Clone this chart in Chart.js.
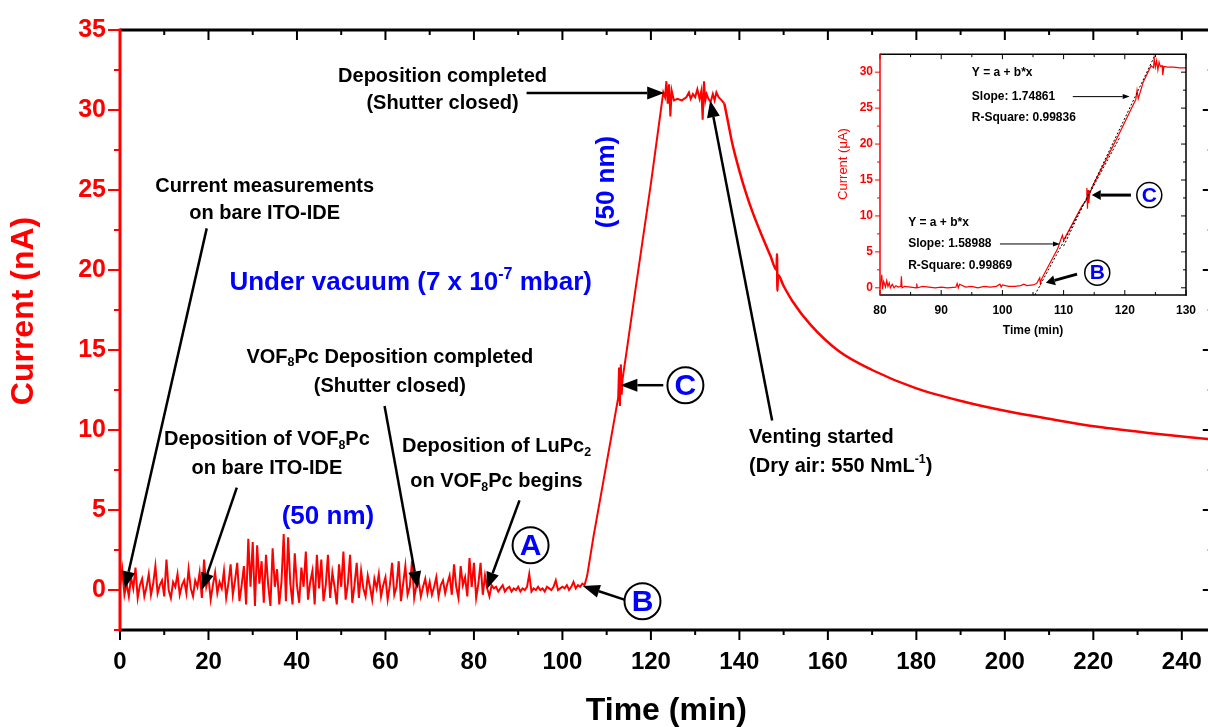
<!DOCTYPE html>
<html>
<head>
<meta charset="utf-8">
<script src="https://cdn.jsdelivr.net/npm/chart.js@4.4.0/dist/chart.umd.min.js"></script>
<style>
  html, body { margin: 0; padding: 0; background: #fff; overflow: hidden; }
  #wrap { position: relative; width: 1208px; height: 727px; overflow: hidden; }
  #main { position: absolute; left: 0; top: 0; }
  #inset { position: absolute; left: 835px; top: 40px; }
</style>
</head>
<body>
<div id="wrap">
  <canvas id="main" width="1220" height="727"></canvas>
  <canvas id="inset" width="373" height="310"></canvas>
</div>
<script>
// ---- main curve (current in nA vs time in min) ----
const noiseTime = [
  0, 0.5, 1, 1.5, 2, 2.5, 3, 3.5, 4, 4.5,
  5, 5.5, 6, 6.5, 7, 7.5, 8, 8.5, 9, 9.5,
  10, 10.5, 11, 11.5, 12, 12.5, 13, 13.5, 14, 14.5,
  15, 15.5, 16, 16.5, 17, 17.5, 18, 18.5, 19, 19.5,
  20, 20.5, 21, 21.5, 22, 22.5, 23, 23.5, 24, 24.5,
  25, 25.5, 26, 26.5, 27, 27.5, 28, 28.5, 29, 29.5,
  30, 30.5, 31, 31.5, 32, 32.5, 33, 33.5, 34, 34.5,
  35, 35.5, 36, 36.5, 37, 37.5, 38, 38.5, 39, 39.5,
  40, 40.5, 41, 41.5, 42, 42.5, 43, 43.5, 44, 44.5,
  45, 45.5, 46, 46.5, 47, 47.5, 48, 48.5, 49, 49.5,
  50, 50.5, 51, 51.5, 52, 52.5, 53, 53.5, 54, 54.5,
  55, 55.5, 56, 56.5, 57, 57.5, 58, 58.5, 59, 59.5,
  60, 60.5, 61, 61.5, 62, 62.5, 63, 63.5, 64, 64.5,
  65, 65.5, 66, 66.5, 67, 67.5, 68, 68.5, 69, 69.5,
  70, 70.5, 71, 71.5, 72, 72.5, 73, 73.5, 74, 74.5,
  75, 75.5, 76, 76.5, 77, 77.5, 78, 78.5, 79, 79.5,
  80, 80.5, 81, 81.5, 82, 82.5, 83, 83.5, 84, 84.5,
  85, 85.5, 86, 86.5, 87, 87.5, 88, 88.5, 89, 89.5,
  90, 90.5, 91, 91.5, 92, 92.5, 93, 93.5, 94, 94.5,
  95, 95.5, 96, 96.5, 97, 97.5, 98, 98.5, 99, 99.5,
  100, 100.5, 101, 101.5, 102, 102.5, 103, 103.5, 104, 104.5,
  105
];
const noiseCurrent = [
  0.2, 1.3, -0.3, 0.4, -0.4, 0.8, 0.1, 1.4, -0.5, 0.3,
  0.7, -0.4, 0.2, 1.0, -0.3, 0.4, 1.5, -0.2, 0.3, 0.6,
  -0.4, 1.9, 0.0, -0.5, 0.5, 0.2, 1.0, -0.3, 0.3, 0.6,
  -0.2, 1.3, 0.1, -0.4, 0.6, 0.2, 1.1, -0.5, 1.9, 0.2,
  0.8, -0.6, 0.3, 1.1, -0.2, 0.5, 0.1, 1.2, -0.5, 0.4,
  1.6, -0.3, 0.6, 1.7, -0.7, 0.3, 1.5, -0.9, 3.2, 0.2,
  3.0, -1.0, 2.8, 0.4, 1.8, -0.8, 2.2, 0.3, -1.0, 2.6,
  0.2, 1.3, -0.9, 0.5, 3.5, -0.7, 3.3, 0.4, -0.9, 2.3,
  0.3, -0.8, 1.4, 0.2, 2.4, -0.6, 0.5, 1.2, -0.9, 2.2,
  0.1, 1.9, -0.7, 0.3, 2.2, -0.5, 1.1, 0.2, -0.9, 1.6,
  0.2, 2.4, -0.6, 0.4, 2.2, -0.8, 0.3, 1.7, -0.5, 1.2,
  0.1, -0.4, 0.9, 0.2, -0.6, 0.7, 0.1, 1.0, -0.4, 0.3,
  0.8, -0.6, 0.3, 1.7, -0.3, 0.2, 1.8, -0.7, 0.4, 1.5,
  -0.3, 0.2, 1.8, -0.5, 0.3, 0.6, -0.4, 0.2, 0.7, -0.2,
  0.5, -0.3, 0.2, 0.8, -0.4, 0.3, 0.6, -0.2, 0.4, 0.9,
  -0.3, 1.6, 0.2, -0.5, 1.5, 0.3, 0.8, -0.4, 2.0, 0.2,
  1.7, -0.5, 0.4, 1.7, -0.3, 0.9, 0.1, -0.4, 0.3, 0.1,
  0.2, -0.1, 0.1, 0.3, -0.1, 0.1, 0.2, -0.1, 0.1, 0.0,
  0.2, -0.1, 0.1, 0.0, 0.2, 1.0, -0.1, 0.1, 0.0, 0.2,
  0.0, 0.1, -0.1, 0.2, 0.1, 0.0, 0.2, 0.6, 0.0, 0.1,
  0.2, 0.1, 0.3, 0.0, 0.2, 0.5, 0.1, 0.3, 0.2, 0.4,
  0.3
];
const riseTime = [105.6, 107, 109, 111, 112.6, 112.8, 113.0, 113.2, 113.4, 113.6, 114.5, 116, 118, 120, 122.8];
const riseCurrent = [0.9, 3.3, 6.4, 9.5, 12.0, 13.9, 11.5, 14.1, 12.2, 13.2, 14.9, 17.8, 21.6, 25.4, 31.1];
const plateauTime = [123.2, 123.5, 123.8, 124.1, 124.4, 124.7, 125.2, 126, 127, 128, 128.6, 129, 129.5, 130, 130.5,
  131, 131.4, 131.7, 132, 132.3, 132.6, 133, 133.5, 134, 134.4, 134.8, 135.3, 136, 136.6];
const plateauCurrent = [30.8, 31.8, 30.4, 31.6, 29.6, 31.2, 30.6, 30.7, 30.6, 30.8, 31.1, 30.7, 31.0, 30.8, 31.3,
  30.7, 31.2, 29.4, 31.8, 30.6, 31.0, 30.7, 30.5, 31.0, 30.6, 31.1, 30.8, 30.6, 30.4];
const decayTime = [136.6, 137.4, 138.4, 140, 141.5, 143, 145, 147, 148.4, 148.5, 148.6, 148.7, 150, 152, 156,
  162.6, 170, 180, 191, 200, 210, 221, 233, 247];
const decayCurrent = [30.4, 29.3, 27.9, 26.2, 24.8, 23.6, 22.2, 20.9, 20.0, 21.0, 18.7, 19.7, 19.0, 18.05, 16.6,
  14.9, 13.75, 12.6, 11.75, 11.2, 10.7, 10.2, 9.8, 9.4];

// ---- inset (current in uA, 80-130 min) ----
const insetTime = [80, 80.3, 80.4, 80.6, 80.9, 81.1, 81.3, 81.5, 81.7, 82, 82.3, 82.6, 83, 83.4, 83.5, 83.6, 84, 85,
  85.9, 86, 86.1, 87, 88, 89, 90, 91, 92.4, 92.6, 92.8, 93, 94, 95, 96, 97, 98, 99, 99.6, 99.8, 100, 101, 102,
  103, 103.5, 104, 105, 105.6, 106.1, 106.2, 106.4, 107, 108, 109, 109.8, 110, 111, 112, 113, 113.7, 113.8, 113.9,
  114, 114.1, 114.3, 115, 117, 119, 121, 121.8, 122, 122.2, 123, 124.3, 124.7, 124.8, 125, 125.2, 125.4, 125.6,
  125.8, 126.1, 126.2, 126.4, 127, 128, 129, 130];
const insetCurrent = [0.1, 1.8, -0.2, 0.9, 0.1, 1.0, 0.2, 0.7, 0.0, 0.5, 0.0, 0.3, 0.1, 0.2, 1.6, 0.0, 0.2, 0.1,
  0.0, 0.6, 0.0, 0.2, 0.1, 0.0, 0.1, 0.0, 0.1, 0.6, 0.0, 0.5, 0.1, 0.2, 0.0, 0.2, 0.1, 0.2, 0.5, 0.1, 0.4, 0.2, 0.2,
  0.3, 0.5, 0.3, 0.4, 0.6, 1.4, 0.6, 1.2, 2.2, 3.8, 5.4, 7.3, 6.6, 8.2, 9.8, 11.4, 12.2, 13.9, 11.0,
  13.6, 11.8, 13.2, 14.6, 17.9, 21.3, 24.8, 26.2, 27.5, 26.3, 28.6, 30.9, 30.6, 31.9, 30.7, 31.6, 30.3, 31.4,
  30.8, 30.9, 29.6, 30.8, 30.7, 30.7, 30.6, 30.6];
const fitSlowTime = [105.3, 119.1];
const fitSlowCurrent = [-1, 20.8];
const fitFastTime = [110, 124.9];
const fitFastCurrent = [5.8, 32.3];

// ---- tick positions ----
const mainXMajor = [0, 20, 40, 60, 80, 100, 120, 140, 160, 180, 200, 220, 240];
const mainXMinor = [10, 30, 50, 70, 90, 110, 130, 150, 170, 190, 210, 230];
const mainYMajor = [0, 5, 10, 15, 20, 25, 30, 35];
const mainYMinor = [-2.5, 2.5, 7.5, 12.5, 17.5, 22.5, 27.5, 32.5];
const insetXMajor = [80, 90, 100, 110, 120, 130];
const insetXMinor = [85, 95, 105, 115, 125];
const insetYMajor = [0, 5, 10, 15, 20, 25, 30];
const insetYMinor = [2.5, 7.5, 12.5, 17.5, 22.5, 27.5];

const FONT = "'Liberation Sans', Arial, Helvetica, sans-serif";
const RED = '#ff0000';
const BLUE = '#0000ff';

function pairs(ts, vs) {
  return ts.map((t, i) => ({ x: t, y: vs[i] }));
}
function font(size, weight) {
  return (weight || 'bold') + ' ' + size + 'px ' + FONT;
}

// text with optional sub/superscript parts: 'plain' or ['8', 'sub']
function richText(ctx, parts, x, y, size, color, align, rot, weight) {
  ctx.save();
  ctx.translate(x, y);
  if (rot) ctx.rotate(rot);
  ctx.fillStyle = color;
  ctx.textBaseline = 'middle';
  ctx.textAlign = 'left';
  const segs = parts.map(p => typeof p === 'string' ? { t: p, k: '' } : { t: p[0], k: p[1] });
  let total = 0;
  segs.forEach(s => {
    s.size = s.k ? size * 0.62 : size;
    ctx.font = font(s.size, weight);
    s.w = ctx.measureText(s.t).width;
    total += s.w;
  });
  let cx = align === 'left' ? 0 : -total / 2;
  segs.forEach(s => {
    ctx.font = font(s.size, weight);
    const dy = s.k === 'sub' ? size * 0.3 : (s.k === 'sup' ? -size * 0.33 : 0);
    ctx.fillText(s.t, cx, dy);
    cx += s.w;
  });
  ctx.restore();
}

function arrow(ctx, x1, y1, x2, y2, lw, hl, hw) {
  const a = Math.atan2(y2 - y1, x2 - x1);
  const bx = x2 - hl * Math.cos(a), by = y2 - hl * Math.sin(a);
  ctx.save();
  ctx.strokeStyle = '#000';
  ctx.fillStyle = '#000';
  ctx.lineWidth = lw;
  ctx.beginPath();
  ctx.moveTo(x1, y1);
  ctx.lineTo(bx, by);
  ctx.stroke();
  ctx.beginPath();
  ctx.moveTo(x2, y2);
  ctx.lineTo(bx + hw * Math.sin(a), by - hw * Math.cos(a));
  ctx.lineTo(bx - hw * Math.sin(a), by + hw * Math.cos(a));
  ctx.closePath();
  ctx.fill();
  ctx.restore();
}

function circled(ctx, letter, x, y, r, size, lw) {
  ctx.save();
  ctx.fillStyle = '#fff';
  ctx.strokeStyle = '#000';
  ctx.lineWidth = lw;
  ctx.beginPath();
  ctx.arc(x, y, r, 0, Math.PI * 2);
  ctx.fill();
  ctx.stroke();
  ctx.fillStyle = BLUE;
  ctx.font = font(size);
  ctx.textAlign = 'center';
  ctx.textBaseline = 'middle';
  ctx.fillText(letter, x, y + size * 0.04);
  ctx.restore();
}

// axes frame: left outward (colored), bottom outward/inward, top + right inward
function drawFrame(chart, t) {
  const { ctx, chartArea: a, scales: { x, y } } = chart;
  ctx.save();
  ctx.lineWidth = t.tickWidth;
  const seg = (x1, y1, x2, y2) => { ctx.beginPath(); ctx.moveTo(x1, y1); ctx.lineTo(x2, y2); ctx.stroke(); };
  ctx.strokeStyle = '#000';
  t.xMajor.forEach(v => {
    const p = x.getPixelForValue(v);
    seg(p, a.bottom, p, a.bottom + t.bottomDir * t.major);
    seg(p, a.top, p, a.top + t.major);
  });
  t.xMinor.forEach(v => {
    const p = x.getPixelForValue(v);
    seg(p, a.bottom, p, a.bottom + t.bottomDir * t.minor);
    seg(p, a.top, p, a.top + t.minor);
  });
  t.yMajor.forEach(v => { const p = y.getPixelForValue(v); seg(a.right, p, a.right - t.major, p); });
  t.yMinor.forEach(v => { const p = y.getPixelForValue(v); seg(a.right, p, a.right - t.minor, p); });
  ctx.strokeStyle = RED;
  t.yMajor.forEach(v => { const p = y.getPixelForValue(v); seg(a.left, p, a.left - t.leftMajor, p); });
  t.yMinor.forEach(v => { const p = y.getPixelForValue(v); seg(a.left, p, a.left - t.leftMinor, p); });
  ctx.lineWidth = t.axisWidth;
  const h = t.axisWidth / 2;
  ctx.strokeStyle = '#000';
  seg(a.left, a.top, a.right + h, a.top);
  seg(a.right, a.top, a.right, a.bottom + h);
  seg(a.left, a.bottom, a.right + h, a.bottom);
  ctx.strokeStyle = RED;
  seg(a.left, a.top - h, a.left, a.bottom + h);
  // y axis title, drawn by hand so it can sit where the original has it
  richText(ctx, [t.yTitle], t.yTitleX, t.yTitleY, t.yTitleSize, RED, 'center', -Math.PI / 2, t.yTitleWeight);
  ctx.restore();
}

const mainFrame = {
  id: 'mainFrame',
  afterDraw(chart) {
    drawFrame(chart, {
      xMajor: mainXMajor, xMinor: mainXMinor, yMajor: mainYMajor, yMinor: mainYMinor,
      major: 10, minor: 5, leftMajor: 12, leftMinor: 6, bottomDir: 1, tickWidth: 2, axisWidth: 3,
      yTitle: 'Current (nA)', yTitleX: 24, yTitleY: 311, yTitleSize: 32
    });
  }
};

const mainNotes = {
  id: 'mainNotes',
  afterDraw(chart) {
    const { ctx, scales: { x, y } } = chart;
    const X = v => x.getPixelForValue(v), Y = v => y.getPixelForValue(v);
    const k = '#000', fs = 20, bs = 26;
    const arr = (t1, v1, t2, v2) => arrow(ctx, X(t1), Y(v1), X(t2), Y(v2), 2.5, 17, 6.5);

    richText(ctx, ['Current measurements'], X(32.7), Y(25.25), fs, k);
    richText(ctx, ['on bare ITO-IDE'], X(32.7), Y(23.56), fs, k);
    arr(19.6, 22.6, 1.1, 0.1);

    richText(ctx, ['Deposition of VOF', ['8', 'sub'], 'Pc'], X(33.2), Y(9.4), fs, k);
    richText(ctx, ['on bare ITO-IDE'], X(33.2), Y(7.6), fs, k);
    arr(26.4, 6.4, 18.5, 0.0);

    richText(ctx, ['VOF', ['8', 'sub'], 'Pc Deposition completed'], X(61), Y(14.56), fs, k);
    richText(ctx, ['(Shutter closed)'], X(61), Y(12.7), fs, k);
    arr(59.8, 11.5, 67.3, 0.1);

    richText(ctx, ['Deposition of LuPc', ['2', 'sub']], X(85.1), Y(8.94), fs, k);
    richText(ctx, ['on VOF', ['8', 'sub'], 'Pc begins'], X(85.1), Y(6.8), fs, k);
    arr(90.3, 5.6, 82.9, 0.05);

    richText(ctx, ['Deposition completed'], X(72.9), Y(32.1), fs, k);
    richText(ctx, ['(Shutter closed)'], X(72.9), Y(30.4), fs, k);
    arr(91.9, 31.06, 123, 31.06);

    richText(ctx, ['Venting started'], X(142.2), Y(9.56), fs, k, 'left');
    richText(ctx, ['(Dry air: 550 NmL', ['-1', 'sup'], ')'], X(142.2), Y(7.75), fs, k, 'left');
    arr(147.4, 10.6, 133.4, 30.6);

    richText(ctx, ['Under vacuum (7 x 10', ['-7', 'sup'], ' mbar)'], X(65.7), Y(19.2), bs, BLUE);
    richText(ctx, ['(50 nm)'], X(47), Y(4.56), bs, BLUE);
    richText(ctx, ['(50 nm)'], X(110), Y(25.5), bs, BLUE, 'center', -Math.PI / 2);

    arr(114, -0.6, 104.6, 0.25);
    arr(122.8, 12.8, 113.1, 12.8);
    circled(ctx, 'A', X(92.8), Y(2.8), 18, 30, 2);
    circled(ctx, 'B', X(118.1), Y(-0.7), 18, 30, 2);
    circled(ctx, 'C', X(127.8), Y(12.8), 18, 30, 2);
  }
};

new Chart(document.getElementById('main'), {
  type: 'line',
  data: {
    datasets: [
      {
        data: pairs(noiseTime.concat(riseTime, plateauTime), noiseCurrent.concat(riseCurrent, plateauCurrent)),
        borderColor: RED, borderWidth: 2, pointRadius: 0, tension: 0
      },
      {
        data: pairs(decayTime, decayCurrent),
        borderColor: RED, borderWidth: 2.5, pointRadius: 0, cubicInterpolationMode: 'monotone'
      }
    ]
  },
  options: {
    responsive: false,
    animation: false,
    layout: { padding: { top: 30, right: 6, left: 0, bottom: 0 } },
    plugins: { legend: { display: false }, tooltip: { enabled: false } },
    scales: {
      x: {
        type: 'linear', min: 0, max: 247,
        afterFit: s => { s.height = 97; },
        grid: { display: false, drawTicks: false },
        border: { display: false },
        ticks: {
          stepSize: 20, includeBounds: false, autoSkip: false, maxRotation: 0, padding: 18,
          color: '#000', font: { size: 24, weight: 'bold', family: FONT }
        },
        title: {
          display: true, text: 'Time (min)', color: '#000',
          font: { size: 32, weight: 'bold', family: FONT, lineHeight: 1 }, padding: { top: 0, bottom: 0 }
        }
      },
      y: {
        type: 'linear', min: -2.5, max: 35,
        afterFit: s => { s.width = 120; },
        grid: { display: false, drawTicks: false },
        border: { display: false },
        ticks: {
          stepSize: 5, includeBounds: false, autoSkip: false, padding: 14,
          color: RED, font: { size: 25, weight: 'bold', family: FONT }
        },
        title: { display: false }
      }
    }
  },
  plugins: [mainFrame, mainNotes]
});

// ---- inset ----
const insetFrame = {
  id: 'insetFrame',
  afterDraw(chart) {
    drawFrame(chart, {
      xMajor: insetXMajor, xMinor: insetXMinor, yMajor: insetYMajor, yMinor: insetYMinor,
      major: 5, minor: 3, leftMajor: 5, leftMinor: 3, bottomDir: -1, tickWidth: 1, axisWidth: 1.5,
      yTitle: 'Current (μA)', yTitleX: 8, yTitleY: 124, yTitleSize: 13, yTitleWeight: 'normal'
    });
  }
};

const insetNotes = {
  id: 'insetNotes',
  afterDraw(chart) {
    const { ctx, scales: { x, y } } = chart;
    const X = v => x.getPixelForValue(v), Y = v => y.getPixelForValue(v);
    const k = '#000', fs = 12;
    richText(ctx, ['Y = a + b*x'], X(95.0), Y(29.9), fs, k, 'left');
    richText(ctx, ['Slope: 1.74861'], X(95.0), Y(26.6), fs, k, 'left');
    richText(ctx, ['R-Square: 0.99836'], X(95.0), Y(23.6), fs, k, 'left');
    arrow(ctx, X(111.5), Y(26.6), X(120.8), Y(26.6), 1, 7, 2.5);

    richText(ctx, ['Y = a + b*x'], X(84.6), Y(9.0), fs, k, 'left');
    richText(ctx, ['Slope: 1.58988'], X(84.6), Y(6.1), fs, k, 'left');
    richText(ctx, ['R-Square: 0.99869'], X(84.6), Y(3.1), fs, k, 'left');
    arrow(ctx, X(99.6), Y(6.1), X(109.4), Y(6.1), 1, 7, 2.5);

    arrow(ctx, X(121.0), Y(12.9), X(114.6), Y(12.9), 3, 9, 5);
    arrow(ctx, X(112.2), Y(1.9), X(107.1), Y(0.7), 3, 9, 5);
    circled(ctx, 'C', X(124.0), Y(12.9), 12.5, 21, 1.5);
    circled(ctx, 'B', X(115.5), Y(2.1), 12.5, 21, 1.5);
  }
};

new Chart(document.getElementById('inset'), {
  type: 'line',
  data: {
    datasets: [
      { data: pairs(fitSlowTime, fitSlowCurrent), borderColor: '#000', borderWidth: 1, borderDash: [2, 2], pointRadius: 0 },
      { data: pairs(fitFastTime, fitFastCurrent), borderColor: '#000', borderWidth: 1, borderDash: [2, 2], pointRadius: 0 },
      { data: pairs(insetTime, insetCurrent), borderColor: RED, borderWidth: 1.2, pointRadius: 0, tension: 0 }
    ]
  },
  options: {
    responsive: false,
    animation: false,
    layout: { padding: { top: 9, right: 22, left: 0, bottom: 0 } },
    plugins: { legend: { display: false }, tooltip: { enabled: false } },
    scales: {
      x: {
        type: 'linear', min: 80, max: 130,
        afterFit: s => { s.height = 55; },
        grid: { display: false, drawTicks: false },
        border: { display: false },
        ticks: {
          stepSize: 10, includeBounds: false, autoSkip: false, maxRotation: 0, padding: 8,
          color: '#000', font: { size: 12, weight: 'bold', family: FONT }
        },
        title: {
          display: true, text: 'Time (min)', color: '#000',
          font: { size: 12, weight: 'bold', family: FONT, lineHeight: 1 }, padding: { top: 0, bottom: 13 }
        }
      },
      y: {
        type: 'linear', min: -1, max: 32.5,
        afterFit: s => { s.width = 45; },
        grid: { display: false, drawTicks: false },
        border: { display: false },
        ticks: {
          stepSize: 5, includeBounds: false, autoSkip: false, padding: 7,
          color: RED, font: { size: 12, weight: 'bold', family: FONT }
        },
        title: { display: false }
      }
    }
  },
  plugins: [insetFrame, insetNotes]
});
</script>
</body>
</html>
